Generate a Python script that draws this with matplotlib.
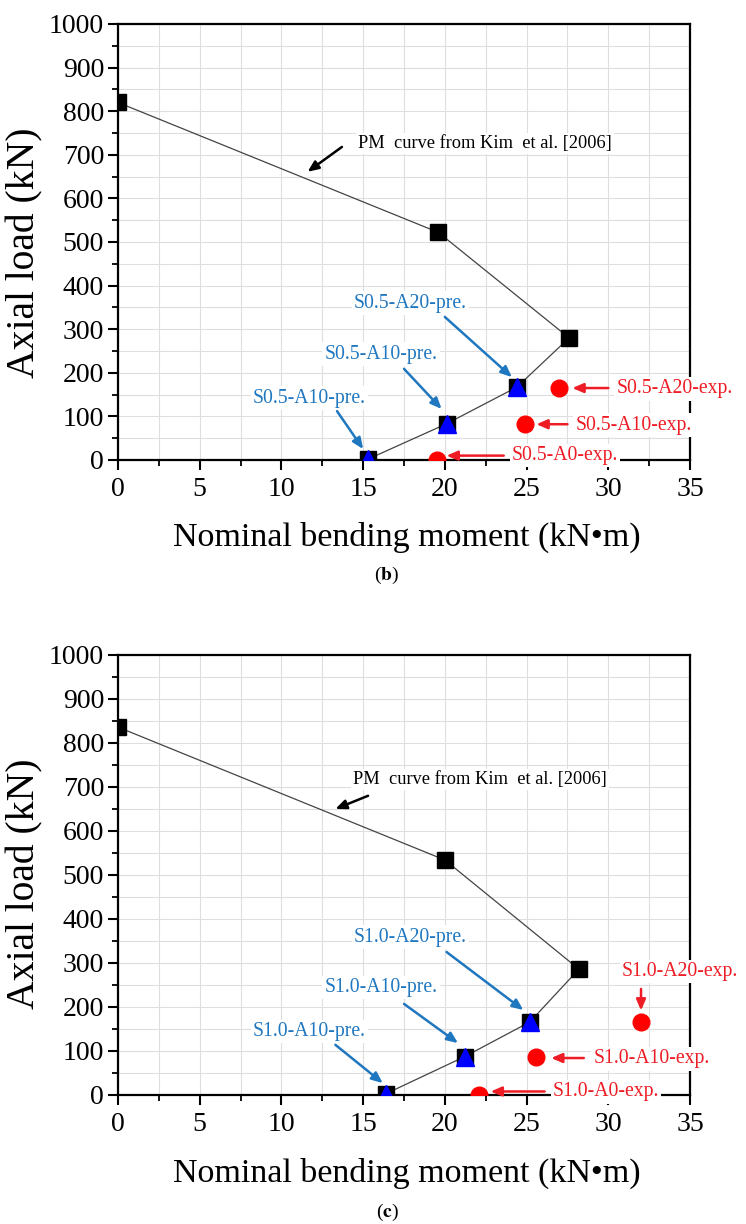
import matplotlib
matplotlib.use("Agg")
import matplotlib.pyplot as plt
from matplotlib.ticker import MultipleLocator

plt.rcParams['font.family'] = ['Liberation Serif', 'DejaVu Serif']
plt.rcParams['mathtext.fontset'] = 'stix'

# =====================================================
# DATA  (panel b: S0.5, panel c: S1.0)
# =====================================================

pm_b_moment = [0.0, 19.6, 27.6, 24.4, 20.1, 15.3]
pm_b_load = [820, 522, 280, 167, 83, 2]
pre_b_moment = [15.3, 20.1, 24.4]
pre_b_load = [2, 83, 167]
exp_b_moment = [19.5, 24.9, 27.0]
exp_b_load = [0, 83, 165]

pm_c_moment = [0.0, 20.0, 28.2, 25.2, 21.2, 16.4]
pm_c_load = [836, 534, 286, 166, 87, 3]
pre_c_moment = [16.4, 21.2, 25.2]
pre_c_load = [3, 87, 166]
exp_c_moment = [22.1, 25.6, 32.0]
exp_c_load = [0, 86, 166]

# labels: (text, x, y, ha)
blue_b = [
    ("S0.5-A20-pre.", 17.9, 360, 'center'),
    ("S0.5-A10-pre.", 16.1, 243, 'center'),
    ("S0.5-A10-pre.", 11.7, 142, 'center'),
]
blue_b_arrows = [((20.0, 328), (24.1, 190)),
                 ((17.5, 209), (19.8, 117)),
                 ((13.4, 112), (15.0, 25))]
red_b = [
    ("S0.5-A20-exp.", 30.5, 163, 'left'),
    ("S0.5-A10-exp.", 28.0, 80, 'left'),
    ("S0.5-A0-exp.", 24.1, 10, 'left'),
]
red_b_arrows = [((30.0, 165), (27.8, 165)),
                ((27.5, 82), (25.6, 82)),
                ((23.6, 10), (20.1, 10))]
pm_b_text = (14.7, 725)
pm_b_arrow = ((13.7, 718), (11.6, 661))

blue_c = [
    ("S1.0-A20-pre.", 17.9, 359, 'center'),
    ("S1.0-A10-pre.", 16.1, 245, 'center'),
    ("S1.0-A10-pre.", 11.7, 145, 'center'),
]
blue_c_arrows = [((20.1, 325), (24.8, 193)),
                 ((17.5, 207), (20.8, 118)),
                 ((13.3, 114), (16.2, 27))]
red_c = [
    ("S1.0-A20-exp.", 34.4, 280, 'center'),
    ("S1.0-A10-exp.", 29.1, 82, 'left'),
    ("S1.0-A0-exp.", 26.6, 7, 'left'),
]
red_c_arrows = [((32.0, 241), (32.0, 192)),
                ((28.5, 84), (26.5, 84)),
                ((26.1, 8), (22.8, 8))]
pm_c_text = (14.4, 716)
pm_c_arrow = ((15.3, 680), (13.3, 650))

BLUE_TXT = '#1f77c0'
RED_TXT = '#ee1c24'

# =====================================================
# PLOT
# =====================================================

fig = plt.figure(figsize=(7.46, 12.24), dpi=100)


def panel(rect, pm_m, pm_p, pre_m, pre_p, exp_m, exp_p,
          blue, blue_arr, red, red_arr, pm_txt, pm_arr):
    ax = fig.add_axes(rect)
    ax.set_xlim(0, 35)
    ax.set_ylim(0, 1000)
    ax.xaxis.set_major_locator(MultipleLocator(5))
    ax.xaxis.set_minor_locator(MultipleLocator(2.5))
    ax.yaxis.set_major_locator(MultipleLocator(100))
    ax.yaxis.set_minor_locator(MultipleLocator(50))
    ax.grid(which='both', color='#dedede', linewidth=0.8)
    ax.set_axisbelow(True)
    for s in ax.spines.values():
        s.set_linewidth(1.6)
    ax.tick_params(which='major', direction='out', length=7, width=1.5,
                   labelsize=20)
    ax.tick_params(which='minor', direction='out', length=4, width=1.3)
    ax.tick_params(axis='x', pad=5)
    ax.tick_params(axis='y', pad=3)

    ax.plot(pm_m, pm_p, '-', color='#444444', linewidth=0.9, zorder=4)
    ax.plot(pm_m, pm_p, 's', color='black', markersize=11, zorder=5)
    ax.plot(pre_m, pre_p, '^', color='#0000ff', markersize=13, zorder=6)
    ax.plot(exp_m, exp_p, 'o', color='#ff0000', markersize=12, zorder=6)

    box = dict(facecolor='white', edgecolor='none', pad=1.5)
    ax.text(pm_txt[0], pm_txt[1], "PM  curve from Kim  et al. [2006]",
            fontsize=13.2, ha='left', va='center', bbox=box, zorder=7)
    ax.annotate('', xy=pm_arr[1], xytext=pm_arr[0],
                arrowprops=dict(arrowstyle='-|>,head_length=0.65,head_width=0.28',
                                color='black', lw=1.8, shrinkA=0, shrinkB=0))

    for (t, x, y, ha), (tail, head) in zip(blue, blue_arr):
        ax.text(x, y, t, color=BLUE_TXT, fontsize=14.2, ha=ha, va='center',
                bbox=box, zorder=7)
        ax.annotate('', xy=head, xytext=tail,
                    arrowprops=dict(arrowstyle='-|>,head_length=0.65,head_width=0.28',
                                    color=BLUE_TXT, lw=1.8, shrinkA=0, shrinkB=0),
                    zorder=8)
    for (t, x, y, ha), (tail, head) in zip(red, red_arr):
        ax.text(x, y, t, color=RED_TXT, fontsize=14.2, ha=ha, va='center',
                bbox=box, zorder=7, clip_on=False)
        ax.annotate('', xy=head, xytext=tail,
                    arrowprops=dict(arrowstyle='-|>,head_length=0.65,head_width=0.28',
                                    color=RED_TXT, lw=1.8, shrinkA=0, shrinkB=0),
                    zorder=8)
    return ax


ax_b = panel([0.1582, 0.6242, 0.7668, 0.3562],
             pm_b_moment, pm_b_load, pre_b_moment, pre_b_load,
             exp_b_moment, exp_b_load, blue_b, blue_b_arrows,
             red_b, red_b_arrows, pm_b_text, pm_b_arrow)

ax_c = panel([0.1582, 0.1054, 0.7668, 0.3595],
             pm_c_moment, pm_c_load, pre_c_moment, pre_c_load,
             exp_c_moment, exp_c_load, blue_c, blue_c_arrows,
             red_c, red_c_arrows, pm_c_text, pm_c_arrow)

# axis labels and captions
fig.text(25 / 746, 1 - 253 / 1224, "Axial load (kN)", rotation=90,
         fontsize=28.5, ha='center', va='center')
fig.text(25 / 746, 1 - 884 / 1224, "Axial load (kN)", rotation=90,
         fontsize=28.5, ha='center', va='center')
fig.text(407 / 746, 1 - 537 / 1224, "Nominal bending moment (kN\u2022m)",
         fontsize=24.5, ha='center', va='center')
fig.text(407 / 746, 1 - 1173 / 1224, "Nominal bending moment (kN\u2022m)",
         fontsize=24.5, ha='center', va='center')
fig.text(387 / 746, 1 - 575 / 1224, r"($\mathbf{b}$)", fontsize=14,
         ha='center', va='center')
fig.text(387 / 746, 1 - 1212 / 1224, r"($\mathbf{c}$)", fontsize=14,
         ha='center', va='center')

fig.savefig("out.png", dpi=100)
